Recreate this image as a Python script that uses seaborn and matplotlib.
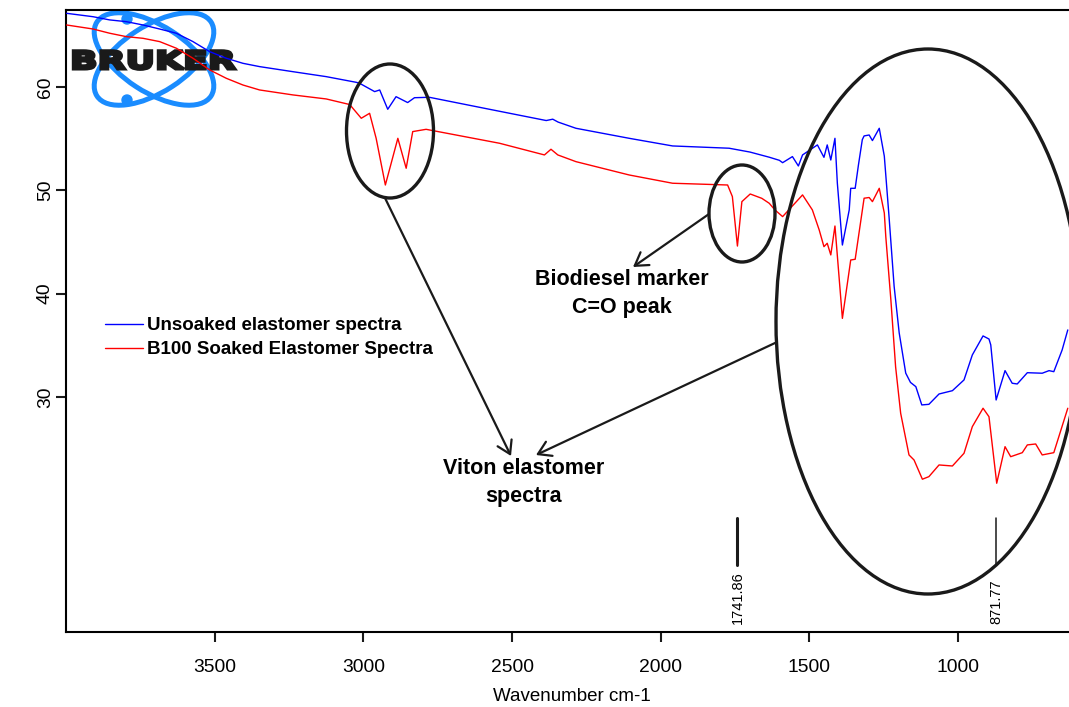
import matplotlib
matplotlib.use("Agg")
import matplotlib.pyplot as plt
import matplotlib.transforms as mtransforms
from matplotlib import patheffects
from matplotlib.patches import Ellipse, FancyArrowPatch, Circle
import numpy as np
import pandas as pd
import seaborn as sns

# ---- spectra (wavenumber in cm-1, transmittance) ----
wavenumber_unsoaked = [
    3998, 3909, 3853, 3797, 3741, 3685, 3629, 3573, 3517, 3461, 3405, 3349,
    3237, 3125, 3024, 3013, 2962, 2945, 2918, 2890, 2851, 2828, 2778, 2576,
    2385, 2363, 2345, 2285, 2106, 1960, 1770, 1700, 1635, 1601, 1590, 1557,
    1537, 1523, 1473, 1451, 1440, 1428, 1414, 1406, 1389, 1366, 1361, 1346,
    1335, 1322, 1316, 1299, 1288, 1265, 1248, 1232, 1215, 1198, 1176, 1160,
    1142, 1122, 1098, 1064, 1019, 980, 952, 916, 896, 890, 872, 842, 818,
    801, 767, 717, 694, 678, 650, 631,
]
transmittance_unsoaked = [
    67.13, 66.80, 66.49, 66.32, 66.00, 65.61, 65.20, 64.39, 63.42, 62.78, 62.29, 61.97,
    61.48, 61.00, 60.45, 60.36, 59.55, 59.71, 57.84, 59.06, 58.49, 58.96, 59.00, 57.84,
    56.75, 56.88, 56.60, 56.00, 55.03, 54.29, 54.07, 53.70, 53.20, 52.90, 52.67, 53.26,
    52.35, 53.42, 54.39, 53.19, 54.39, 52.93, 55.03, 50.70, 44.70, 48.10, 50.19, 50.19,
    52.45, 54.90, 55.26, 55.35, 54.81, 56.00, 53.30, 47.40, 40.70, 36.20, 32.30, 31.40,
    30.99, 29.22, 29.28, 30.28, 30.60, 31.64, 34.06, 35.90, 35.60, 35.03, 29.70, 32.54, 31.32,
    31.25, 32.34, 32.29, 32.54, 32.44, 34.54, 36.48,
]

wavenumber_soaked = [
    3998, 3909, 3853, 3797, 3741, 3685, 3629, 3573, 3517, 3461, 3405, 3349,
    3237, 3125, 3046, 3007, 2979, 2957, 2926, 2884, 2856, 2834, 2789, 2542,
    2391, 2369, 2346, 2285, 2106, 1960, 1775, 1759, 1742, 1727, 1699, 1660,
    1635, 1616, 1590, 1523, 1490, 1467, 1451, 1440, 1428, 1414, 1389, 1361,
    1346, 1316, 1299, 1288, 1265, 1248, 1243, 1226, 1210, 1193, 1165, 1148,
    1120, 1098, 1064, 1019, 980, 952, 916, 896, 870, 842, 823, 784, 767,
    739, 717, 678, 631,
]
transmittance_soaked = [
    66.00, 65.61, 65.20, 64.87, 64.71, 64.39, 63.75, 62.78, 61.65, 60.84, 60.19, 59.71,
    59.23, 58.84, 58.30, 56.97, 57.45, 55.03, 50.51, 55.03, 52.13, 55.68, 55.90, 54.55,
    53.42, 53.97, 53.42, 52.77, 51.48, 50.68, 50.51, 49.39, 44.60, 48.90, 49.64, 49.22,
    48.74, 48.10, 47.45, 49.55, 48.10, 46.16, 44.54, 44.87, 43.74, 46.54, 37.60, 43.25,
    43.32, 49.23, 49.30, 48.90, 50.19, 47.80, 45.50, 39.40, 32.90, 28.41, 24.38, 23.89,
    22.03, 22.28, 23.41, 23.31, 24.54, 27.12, 28.90, 28.08, 21.64, 25.18, 24.21, 24.60, 25.35,
    25.44, 24.38, 24.60, 28.90,
]

series_labels = ["Unsoaked elastomer spectra", "B100 Soaked Elastomer Spectra"]
series_colors = ["#0000ff", "#ff0000"]

peak_wavenumbers = [1741.86, 871.77]
peak_labels = ["1741.86", "871.77"]

x_ticks = [3500, 3000, 2500, 2000, 1500, 1000]
y_ticks = [30, 40, 50, 60]

# ---- theme ----
sns.set_theme(style="ticks")
plt.rcParams["font.family"] = ["Liberation Sans", "DejaVu Sans"]
plt.rcParams.update({
    "axes.linewidth": 1.5,
    "text.color": "black",
    "axes.labelcolor": "black",
    "axes.edgecolor": "black",
    "xtick.color": "black",
    "ytick.color": "black",
})

W, H, DPI = 1069, 707, 100
fig = plt.figure(figsize=(W / DPI, H / DPI), dpi=DPI)
ax = fig.add_axes([66 / W, (H - 632) / H, (1077 - 66) / W, (632 - 10) / H])

# pixel coordinates measured from the top-left corner of the figure
pix = mtransforms.Affine2D().scale(1 / DPI, -1 / DPI).translate(0, H / DPI) + fig.dpi_scale_trans

df = pd.concat([
    pd.DataFrame({"Wavenumber": wavenumber_unsoaked,
                  "Transmittance": transmittance_unsoaked,
                  "Spectrum": series_labels[0]}),
    pd.DataFrame({"Wavenumber": wavenumber_soaked,
                  "Transmittance": transmittance_soaked,
                  "Spectrum": series_labels[1]}),
])
sns.lineplot(data=df, x="Wavenumber", y="Transmittance", hue="Spectrum",
             hue_order=series_labels, palette=dict(zip(series_labels, series_colors)),
             estimator=None, sort=False, linewidth=1.0, ax=ax, zorder=3)

ax.set_xlim(4000, 600)
ax.set_ylim(7.24, 67.45)
ax.set_xticks(x_ticks)
ax.set_yticks(y_ticks)
ax.set_xlabel("Wavenumber cm-1", fontsize=13.5, labelpad=9)
ax.set_ylabel("")
ax.tick_params(axis="both", direction="out", length=7.2, width=1.5, labelsize=13.9, color="k")
ax.tick_params(axis="x", pad=12)
ax.tick_params(axis="y", pad=1.5, labelrotation=90)
for t in ax.get_yticklabels():
    t.set_va("center")
ax.spines["right"].set_visible(False)

# legend
handles, labels = ax.get_legend_handles_labels()
ax.legend(handles, labels, loc="upper left", bbox_to_anchor=(105, 317), bbox_transform=pix,
          frameon=False, borderpad=0, borderaxespad=0, handlelength=2.05, handletextpad=0.18,
          labelspacing=0.38, prop={"weight": "bold", "size": 13.5})

# peak position markers and labels
bt = mtransforms.blended_transform_factory(ax.transData, ax.transAxes)
for wn, lab, lw in zip(peak_wavenumbers, peak_labels, [2.2, 1.1]):
    ax.axvline(wn, ymin=0.108, ymax=0.183, color="k", lw=lw, zorder=4)
    ax.text(wn, 0.013, lab, transform=bt, rotation=90, ha="center", va="bottom",
            fontsize=10.5)

# highlight ellipses
for (cx, cy, w, h) in [(390, 131, 87, 134), (742, 213.5, 66, 97), (928, 321.5, 304, 545)]:
    ax.add_patch(Ellipse((cx, cy), w, h, transform=pix, fill=False, ec="k", lw=2.4, zorder=5))

# arrows
for (a, b) in [((385, 198), (511, 456)), ((775, 343), (536, 455)), ((709, 214), (633, 267))]:
    ax.add_patch(FancyArrowPatch(a, b, transform=pix, arrowstyle="->,head_length=0.45,head_width=0.28",
                                 mutation_scale=20, lw=1.6, color="k", shrinkA=0, shrinkB=0, zorder=5))

ax.text(622, 269, "Biodiesel marker\nC=O peak", transform=pix, ha="center", va="top",
        fontsize=15.5, fontweight="bold", linespacing=1.42, zorder=6)
ax.text(524, 458, "Viton elastomer\nspectra", transform=pix, ha="center", va="top",
        fontsize=15.5, fontweight="bold", linespacing=1.42, zorder=6)


# ---- logo ----
class WideHeavy(patheffects.AbstractPathEffect):
    """Stretch glyphs horizontally around the text origin and thicken them."""

    def __init__(self, sx, stroke):
        super().__init__()
        self.sx = sx
        self.stroke = stroke

    def draw_path(self, renderer, gc, tpath, affine, rgbFace=None):
        m = affine.get_matrix()
        tx, ty = m[0, 2], m[1, 2]
        stretch = mtransforms.Affine2D().translate(-tx, -ty).scale(self.sx, 1).translate(tx, ty)
        gc0 = renderer.new_gc()
        gc0.copy_properties(gc)
        gc0.set_linewidth(self.stroke)
        gc0.set_foreground("k")
        gc0.set_joinstyle("miter")
        renderer.draw_path(gc0, tpath, affine + stretch, rgbFace)
        gc0.restore()


logo_blue = "#1a8cff"
for ang in (33, -33):
    ax.add_patch(Ellipse((154, 59), 136, 66, angle=ang, transform=pix, fill=False,
                         ec=logo_blue, lw=3.6, zorder=1))
for (cx, cy) in [(127, 19), (127, 100)]:
    ax.add_patch(Circle((cx, cy), 5, transform=pix, color=logo_blue, zorder=1))
ax.text(70, 69, "BRUKER", transform=pix, ha="left", va="baseline", fontsize=18,
        fontweight="bold", family="DejaVu Sans", color="k", zorder=2,
        path_effects=[WideHeavy(1.45, 2.2)])

fig.savefig("out.png", dpi=DPI)
